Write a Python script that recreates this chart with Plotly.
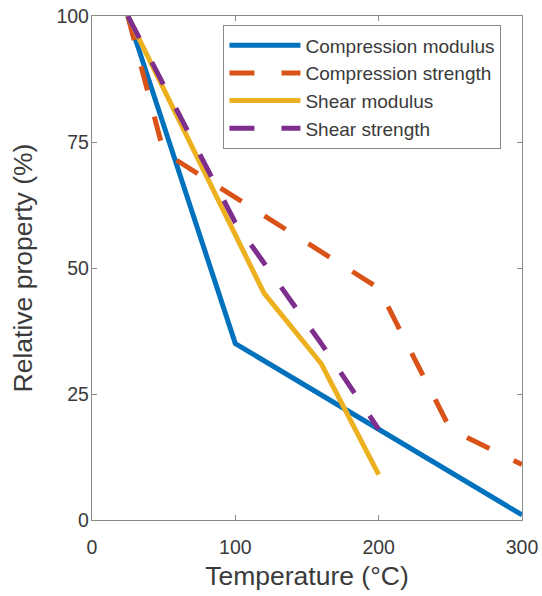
import plotly.graph_objects as go

# Data
temp_comp_mod = [25, 100, 300]
comp_modulus = [100, 35, 1]

temp_comp_str = [25, 50, 100, 150, 200, 250, 300]
comp_strength = [100, 73, 64, 55, 46, 18, 11]

temp_shear_mod = [25, 100, 120, 160, 200]
shear_modulus = [100, 57, 45, 31, 9]

temp_shear_str = [25, 100, 120, 160, 200]
shear_strength = [100, 59, 51, 35, 18]

x_ticks = [0, 100, 200, 300]
y_ticks = [0, 25, 50, 75, 100]

FONT = "Liberation Sans, Arial, Helvetica, sans-serif"
DASH = "25px,27px"
LW = 5

fig = go.Figure()
fig.add_trace(go.Scatter(x=temp_comp_mod, y=comp_modulus, mode="lines",
                         name="Compression modulus",
                         line=dict(color="#0072BD", width=LW)))
fig.add_trace(go.Scatter(x=temp_comp_str, y=comp_strength, mode="lines",
                         name="Compression strength",
                         line=dict(color="#D95319", width=LW, dash=DASH)))
fig.add_trace(go.Scatter(x=temp_shear_mod, y=shear_modulus, mode="lines",
                         name="Shear modulus",
                         line=dict(color="#EDB120", width=LW)))
fig.add_trace(go.Scatter(x=temp_shear_str, y=shear_strength, mode="lines",
                         name="Shear strength",
                         line=dict(color="#7E2F8E", width=LW, dash=DASH)))

axis_common = dict(
    showline=True, mirror="ticks", linecolor="#8a8a8a", linewidth=1.3,
    ticks="inside", ticklen=5, tickcolor="#8a8a8a", tickwidth=1.3,
    showgrid=False, zeroline=False, automargin=False,
    tickfont=dict(family=FONT, size=19.5, color="#3a3a3a"),
)

fig.update_layout(
    width=542, height=596,
    margin=dict(l=92, r=20, t=16, b=76, autoexpand=False),
    paper_bgcolor="white", plot_bgcolor="white",
    font=dict(family=FONT, color="#3a3a3a"),
    xaxis=dict(range=[0, 300], tickvals=x_ticks, ticklabelstandoff=9,
               title=dict(text="Temperature (°C)", standoff=9,
                          font=dict(family=FONT, size=26.5, color="#3a3a3a")),
               **axis_common),
    yaxis=dict(range=[0, 100], tickvals=y_ticks, ticklabelstandoff=-2,
               title=dict(text="Relative property (%)", standoff=16,
                          font=dict(family=FONT, size=26.5, color="#3a3a3a")),
               **axis_common),
    showlegend=True,
    legend=dict(x=0.305, y=0.982, xanchor="left", yanchor="top",
                bgcolor="white", bordercolor="#8a8a8a", borderwidth=1.3,
                font=dict(family=FONT, size=19, color="#3a3a3a"),
                itemwidth=71, tracegroupgap=0),
)

fig.write_html("out.html")
